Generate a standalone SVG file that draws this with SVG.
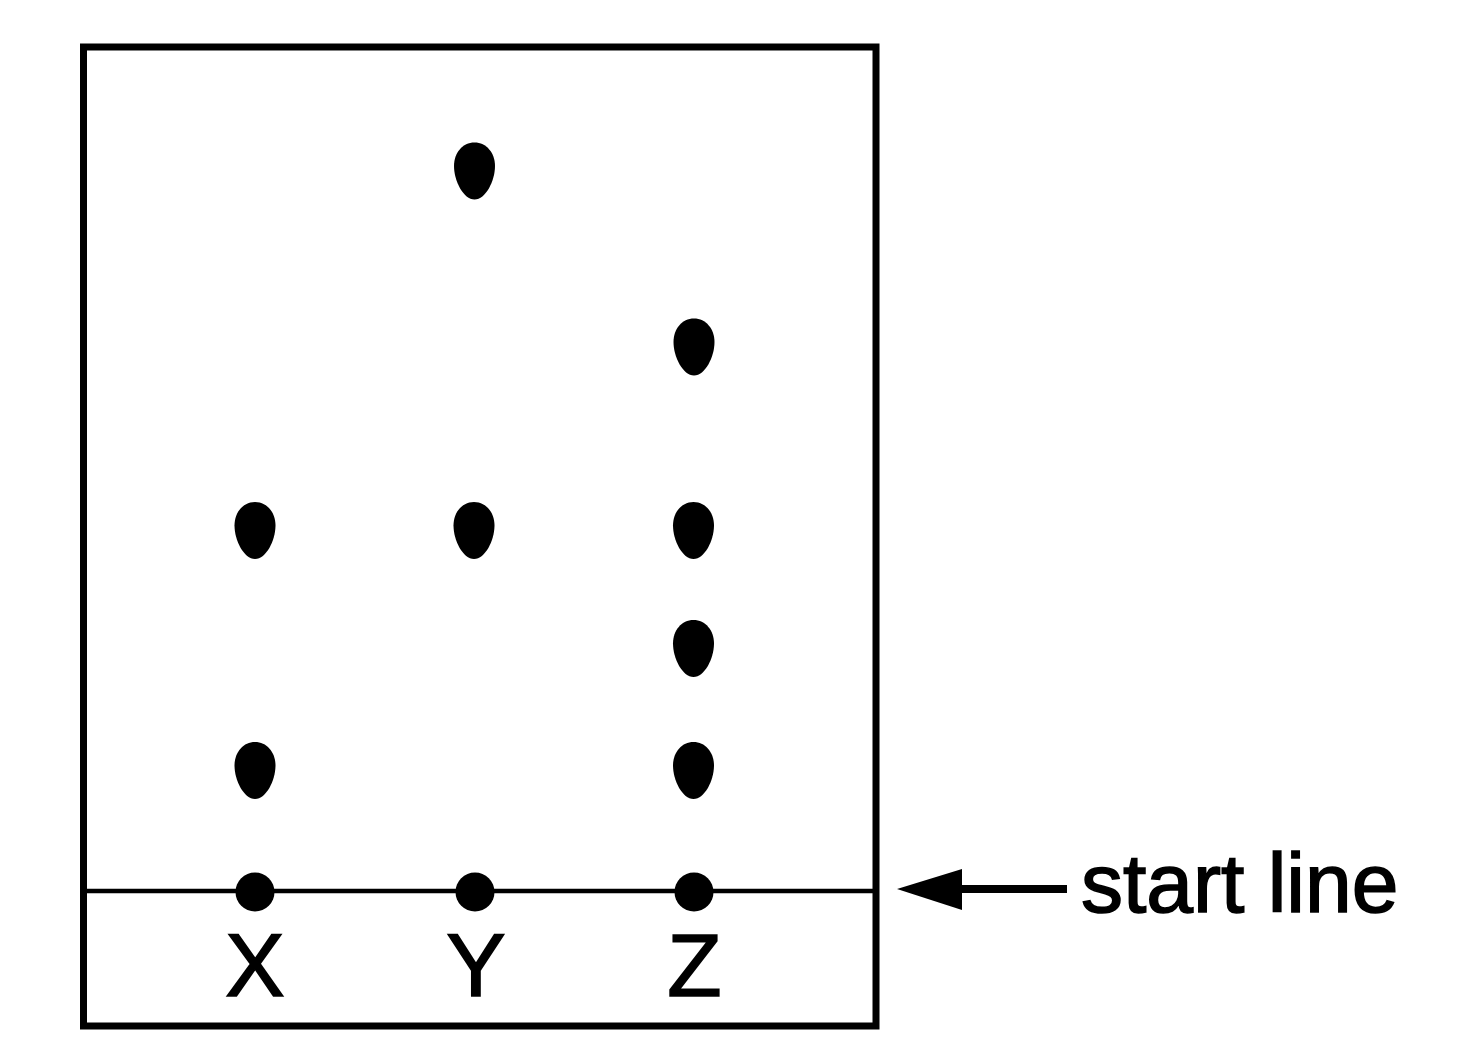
<svg xmlns="http://www.w3.org/2000/svg" xmlns:xlink="http://www.w3.org/1999/xlink" width="1478" height="1064" viewBox="0 0 1478 1064">
<style>
.frame{fill:none;stroke:#000;stroke-width:7}
.line{stroke:#000;stroke-width:4.5}
.lbl{font-family:"Liberation Sans",Arial,Helvetica,sans-serif;fill:#000;stroke:#000;stroke-width:1.6}
.dot{fill:#000}
</style>
<defs>
<path id="spot" d="M0,-28.5 C12,-28.5 20.5,-18 20.5,-5 C20.5,10 11,28.5 0,28.5 C-11,28.5 -20.5,10 -20.5,-5 C-20.5,-18 -12,-28.5 0,-28.5 Z" fill="#000"/>
</defs>
<rect width="1478" height="1064" fill="#fff"/>
<g id="plate">
<rect class="frame" x="83.5" y="47" width="792.5" height="979"/>
<line class="line" x1="84" y1="891" x2="876" y2="891"/>
</g>
<g id="origin-dots">
<circle class="dot" cx="255" cy="892" r="19.5"/>
<circle class="dot" cx="475" cy="892" r="19.5"/>
<circle class="dot" cx="694" cy="892" r="19.5"/>
</g>
<g id="spots-X">
<use xlink:href="#spot" href="#spot" x="255" y="530.5"/>
<use xlink:href="#spot" href="#spot" x="255" y="770.5"/>
</g>
<g id="spots-Y">
<use xlink:href="#spot" href="#spot" x="474.5" y="171"/>
<use xlink:href="#spot" href="#spot" x="474" y="530.5"/>
</g>
<g id="spots-Z">
<use xlink:href="#spot" href="#spot" x="694" y="347"/>
<use xlink:href="#spot" href="#spot" x="693.5" y="530.5"/>
<use xlink:href="#spot" href="#spot" x="693.5" y="648.5"/>
<use xlink:href="#spot" href="#spot" x="693.5" y="770.5"/>
</g>
<g id="labels">
<text class="lbl" x="255" y="996" font-size="89" text-anchor="middle">X</text>
<text class="lbl" x="476" y="996" font-size="89" text-anchor="middle">Y</text>
<text class="lbl" x="694.5" y="996" font-size="89" text-anchor="middle">Z</text>
</g>
<g id="connectors">
<line x1="958" y1="889" x2="1067" y2="889" stroke="#000" stroke-width="8"/>
<polygon points="897,889 962,869 962,910" fill="#000"/>
</g>
<g id="start-line-label">
<text class="lbl" x="1081" y="912" font-size="84">start line</text>
</g>
</svg>
